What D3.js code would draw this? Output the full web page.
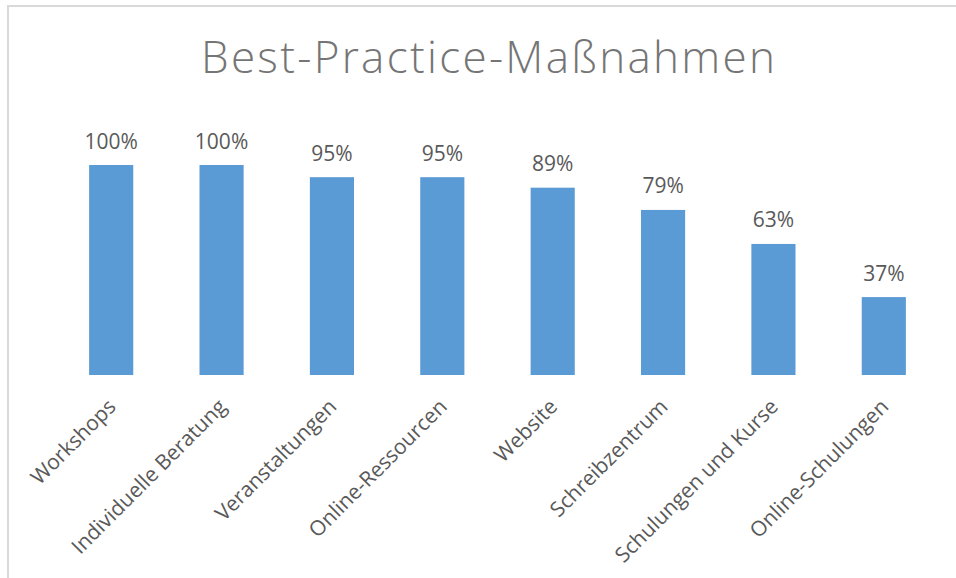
<!DOCTYPE html>
<html><head><meta charset="utf-8">
<script src="https://cdn.jsdelivr.net/npm/d3@7"></script>
<style>html,body{margin:0;padding:0;background:#fff;}svg{display:block;}</style>
</head><body>
<svg id="chart" width="956" height="578"></svg>
<script>
const categories = ["Workshops","Individuelle Beratung","Veranstaltungen","Online-Ressourcen","Website","Schreibzentrum","Schulungen und Kurse","Online-Schulungen"];
const values = [100,100,94.2,94.2,89.2,78.6,62.4,37.1];
const valueLabels = ["100%","100%","95%","95%","89%","79%","63%","37%"];
const title = "Best-Practice-Maßnahmen";

const svg = d3.select("#chart");
// chart border
svg.append("rect").attr("x",8).attr("y",6).attr("width",960).attr("height",600)
  .attr("fill","none").attr("stroke","#d9d9d9").attr("stroke-width",2);

svg.append("text").attr("x",488).attr("y",73).attr("text-anchor","middle")
  .attr("font-family","Open Sans").attr("font-weight",300).attr("font-size",44)
  .attr("textLength",574).attr("lengthAdjust","spacing")
  .attr("fill","#757575").text(title);

const x = d3.scaleBand().domain(categories).range([56,939]).paddingInner(0.6).paddingOuter(0.3);
const y = d3.scaleLinear().domain([0,100]).range([375,165]);

svg.selectAll("rect.bar").data(values).join("rect").attr("class","bar")
  .attr("x",(d,i)=>x(categories[i])).attr("width",x.bandwidth())
  .attr("y",d=>y(d)).attr("height",d=>y(0)-y(d)).attr("fill","#5B9BD5");

svg.selectAll("text.val").data(values).join("text").attr("class","val")
  .attr("x",(d,i)=>x(categories[i])+x.bandwidth()/2).attr("y",d=>y(d)-16.5)
  .attr("text-anchor","middle").attr("font-family","Open Sans").attr("font-size",21)
  .attr("fill","#595959").text((d,i)=>valueLabels[i]);

const axis = d3.axisBottom(x).tickSize(0).tickPadding(0);
const g = svg.append("g").attr("transform","translate(0,375)").call(axis);
g.select(".domain").remove();
g.selectAll("text").attr("font-family","Open Sans").attr("font-size",21).attr("fill","#595959")
  .attr("text-anchor","end").attr("dy",0)
  .attr("transform","translate(6,33) rotate(-45)");
</script>
</body></html>
